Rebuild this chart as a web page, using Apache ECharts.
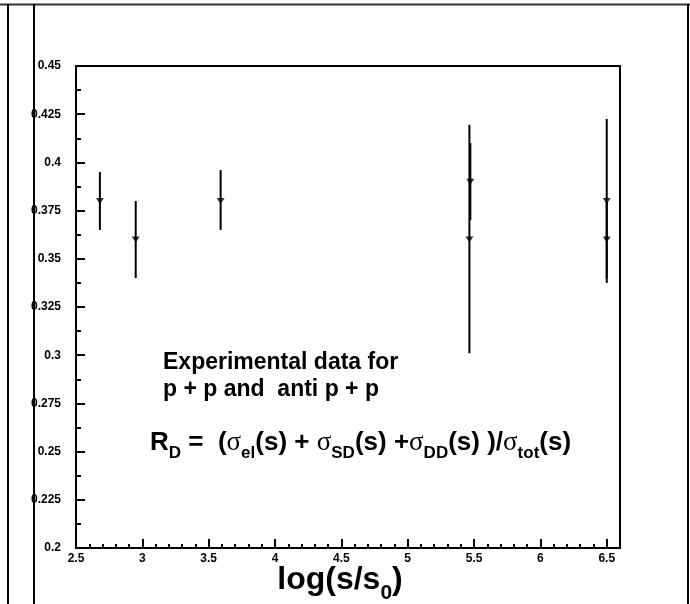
<!DOCTYPE html>
<html>
<head>
<meta charset="utf-8">
<script src="https://cdn.jsdelivr.net/npm/echarts@6/dist/echarts.min.js"></script>
<style>
html,body{margin:0;padding:0;background:#fff;}
#c{width:690px;height:604px;}
</style>
</head>
<body>
<div id="c"></div>
<script>
// ---- data ----
var xValues   = [2.68, 2.95, 3.59, 5.472, 5.465, 6.5, 6.5];
var yValues   = [0.38, 0.36, 0.38, 0.39, 0.36, 0.38, 0.36];
var yLow      = [0.365, 0.34, 0.365, 0.37, 0.301, 0.3375, 0.34];
var yHigh     = [0.395, 0.38, 0.396, 0.41, 0.4195, 0.4225, 0.38];

var xTickLabels = ['2.5','3','3.5','4','4.5','5','5.5','6','6.5'];
var yTickLabels = ['0.2','0.225','0.25','0.275','0.3','0.325','0.35','0.375','0.4','0.425','0.45'];

var xMin = 2.5, xMax = 6.6, xMajor = 0.5, xMinor = 0.1;
var yMin = 0.2, yMax = 0.45, yMajor = 0.025;

var FONT = "'Liberation Sans', Arial, Helvetica, sans-serif";
var SERIF = "'Liberation Serif', 'DejaVu Serif', serif";

var points = xValues.map(function (x, i) { return [x, yValues[i]]; });
var bars = xValues.map(function (x, i) { return [x, yLow[i], yHigh[i]]; });

var chart = echarts.init(document.getElementById('c'), null, {renderer: 'canvas'});

var option = {
  animation: false,
  backgroundColor: '#fff',
  grid: {
    left: 76, right: 70, top: 66, bottom: 56,
    containLabel: false,
    outerBoundsMode: 'none',
    show: true, borderColor: '#000', borderWidth: 2, backgroundColor: 'transparent'
  },
  xAxis: [{
    type: 'value', min: xMin, max: xMax, interval: xMajor,
    axisLine: {lineStyle: {color: '#000', width: 2}},
    axisTick: {inside: true, length: 9, lineStyle: {color: '#000', width: 2}},
    splitLine: {show: false},
    axisLabel: {
      color: '#000', fontFamily: FONT, fontWeight: 'bold', fontSize: 12, margin: 5,
      showMaxLabel: false,
      formatter: function (v) {
        var idx = Math.round((v - xMin) / xMajor);
        return (Math.abs(xMin + idx * xMajor - v) < 1e-6 && xTickLabels[idx]) ? xTickLabels[idx] : '';
      }
    },
    name: '{m|log(s/s}{s|0}{m|)}',
    nameLocation: 'middle',
    nameGap: 14,
    nameMoveOverlap: false,
    nameTextStyle: {
      padding: [0, 16, 0, 0],
      rich: {
        m: {fontFamily: FONT, fontWeight: 'bold', fontSize: 32, color: '#000', lineHeight: 36},
        s: {fontFamily: FONT, fontWeight: 'bold', fontSize: 21, color: '#000', lineHeight: 21, verticalAlign: 'bottom', padding: [0, 0, -6, 0]}
      }
    }
  }, {
    type: 'value', min: xMin, max: xMax, interval: xMinor,
    position: 'bottom',
    axisLine: {show: false},
    axisTick: {inside: true, length: 4, lineStyle: {color: '#000', width: 2}},
    axisLabel: {show: false},
    splitLine: {show: false}
  }],
  yAxis: {
    type: 'value', min: yMin, max: yMax, interval: yMajor,
    axisLine: {lineStyle: {color: '#000', width: 2}},
    axisTick: {inside: true, length: 9, lineStyle: {color: '#000', width: 2}},
    minorTick: {show: true, splitNumber: 2, length: 5, lineStyle: {color: '#000', width: 2}},
    splitLine: {show: false},
    axisLabel: {
      color: '#000', fontFamily: FONT, fontWeight: 'bold', fontSize: 12, margin: 15,
      formatter: function (v) {
        var idx = Math.round((v - yMin) / yMajor);
        return yTickLabels[idx] || '';
      }
    }
  },
  graphic: [
    {type: 'line', shape: {x1: 0, y1: 4.5, x2: 690, y2: 4.5}, style: {stroke: '#333', lineWidth: 2}, silent: true},
    {type: 'line', shape: {x1: 8, y1: 4, x2: 8, y2: 604}, style: {stroke: '#000', lineWidth: 2}, silent: true},
    {type: 'line', shape: {x1: 34, y1: 4, x2: 34, y2: 604}, style: {stroke: '#000', lineWidth: 2}, silent: true},
    {type: 'line', shape: {x1: 688, y1: 4, x2: 688, y2: 604}, style: {stroke: '#000', lineWidth: 2}, silent: true},
    {type: 'text', left: 163, top: 351, silent: true,
      style: {text: 'Experimental data for', font: 'bold 23px ' + FONT, fill: '#000'}},
    {type: 'text', left: 163, top: 378, silent: true,
      style: {text: 'p + p and  anti p + p', font: 'bold 23px ' + FONT, fill: '#000'}},
    {type: 'text', left: 150, top: 429, silent: true,
      style: {
        text: '{m|R}{s|D}{m| =  (}{g|σ}{s|el}{m|(s) + }{g|σ}{s|SD}{m|(s) +}{g|σ}{s|DD}{m|(s) )/}{g|σ}{s|tot}{m|(s)}',
        rich: {
          m: {fontFamily: FONT, fontWeight: 'bold', fontSize: 26, fill: '#000', lineHeight: 30},
          g: {fontFamily: SERIF, fontWeight: 'normal', fontSize: 27, fill: '#000', lineHeight: 30},
          s: {fontFamily: FONT, fontWeight: 'bold', fontSize: 17, fill: '#000', lineHeight: 17, verticalAlign: 'bottom', padding: [0, 0, -4, 0]}
        }
      }}
  ],
  series: [{
    type: 'custom',
    xAxisIndex: 0, yAxisIndex: 0,
    data: bars,
    clip: false,
    renderItem: function (params, api) {
      var p1 = api.coord([api.value(0), api.value(1)]);
      var p2 = api.coord([api.value(0), api.value(2)]);
      return {
        type: 'line',
        shape: {x1: p1[0], y1: p1[1], x2: p2[0], y2: p2[1]},
        style: {stroke: '#000', lineWidth: 2}
      };
    },
    encode: {x: 0, y: [1, 2]},
    z: 2
  }, {
    type: 'scatter',
    xAxisIndex: 0, yAxisIndex: 0,
    data: points,
    symbol: 'triangle',
    symbolRotate: 180,
    symbolSize: [8, 6],
    itemStyle: {color: '#000'},
    z: 3
  }]
};
chart.setOption(option);
</script>
</body>
</html>
